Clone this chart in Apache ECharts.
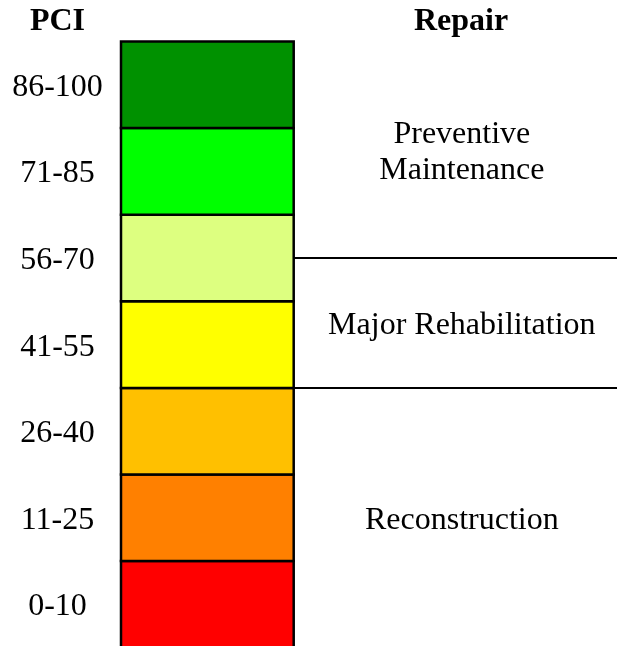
<!DOCTYPE html>
<html>
<head>
<meta charset="utf-8">
<script src="https://cdn.jsdelivr.net/npm/echarts@6/dist/echarts.min.js"></script>
<style>
  html, body { margin: 0; padding: 0; background: #fff; }
  #chart { width: 617px; height: 646px; }
</style>
</head>
<body>
<div id="chart"></div>
<script>
// PCI bands, bottom to top
const pciRanges = ['0-10', '11-25', '26-40', '41-55', '56-70', '71-85', '86-100']
const bandColors = ['#ff0000', '#ff8000', '#ffc000', '#ffff00', '#ddff80', '#00ff00', '#009100']
const bandSize = [1, 1, 1, 1, 1, 1, 1]

// repair groups, in band units from the bottom
const repairNames = ['Reconstruction', 'Major Rehabilitation', 'Preventive\nMaintenance']
const repairBounds = [0, 3, 4.5, 7]

const FONT = '"Liberation Serif", "Times New Roman", serif'

const chart = echarts.init(document.getElementById('chart'))

// one box per PCI band; borders centred on the band edges so neighbours share a line
const renderBand = (params, api) => {
  const idx = api.value(1)
  const p0 = api.coord([0, idx])
  const p1 = api.coord([api.value(0), idx])
  const h = api.size([0, 1])[1]
  return {
    type: 'rect',
    shape: { x: p0[0], y: p0[1] - h / 2, width: p1[0] - p0[0], height: h },
    style: { fill: bandColors[idx], stroke: '#000', lineWidth: 2.5 },
  }
}

const option = {
  animation: false,
  textStyle: { fontFamily: FONT },
  graphic: [
    {
      type: 'text', x: 57.5, y: 22,
      style: { text: 'PCI', font: 'bold 32px ' + FONT, fill: '#000', align: 'center', verticalAlign: 'middle' },
    },
    {
      type: 'text', x: 461, y: 22,
      style: { text: 'Repair', font: 'bold 32px ' + FONT, fill: '#000', align: 'center', verticalAlign: 'middle' },
    },
  ],
  grid: [
    { left: 121, width: 172.7, top: 41.5, height: 606.2, outerBoundsMode: 'none' },
    { left: 293.7, right: -13, top: 41.5, height: 606.2, outerBoundsMode: 'none' },
  ],
  xAxis: [
    { type: 'value', gridIndex: 0, min: 0, max: 1, show: false },
    { type: 'value', gridIndex: 1, min: 0, max: 1, show: false },
  ],
  yAxis: [
    {
      type: 'category',
      gridIndex: 0,
      data: pciRanges,
      axisLine: { show: false },
      axisTick: { show: false },
      axisLabel: {
        align: 'center',
        margin: 63.5,
        formatter: (v) => '{t|' + v + '}',
        rich: {
          t: { fontSize: 32, color: '#000', fontFamily: FONT, padding: [5, 0, 0, 0] },
        },
      },
    },
    { type: 'value', gridIndex: 1, min: 0, max: 7, show: false },
  ],
  series: [
    {
      type: 'custom',
      xAxisIndex: 0,
      yAxisIndex: 0,
      renderItem: renderBand,
      encode: { x: 0, y: 1 },
      data: bandSize.map((v, i) => [v, i]),
    },
    {
      type: 'line',
      xAxisIndex: 1,
      yAxisIndex: 1,
      data: [],
      markArea: {
        silent: true,
        itemStyle: { color: 'rgba(0,0,0,0)' },
        label: {
          show: true,
          position: 'inside',
          offset: [0, 2.5],
          fontSize: 32,
          lineHeight: 36,
          color: '#000',
          fontFamily: FONT,
        },
        data: repairNames.map((name, i) => [
          { name: name, yAxis: repairBounds[i] },
          { yAxis: repairBounds[i + 1] },
        ]),
      },
      markLine: {
        silent: true,
        symbol: 'none',
        label: { show: false },
        lineStyle: { color: '#000', width: 2, type: 'solid' },
        data: repairBounds.slice(1, -1).map((b) => ({ yAxis: b })),
      },
    },
  ],
}

chart.setOption(option)
</script>
</body>
</html>
